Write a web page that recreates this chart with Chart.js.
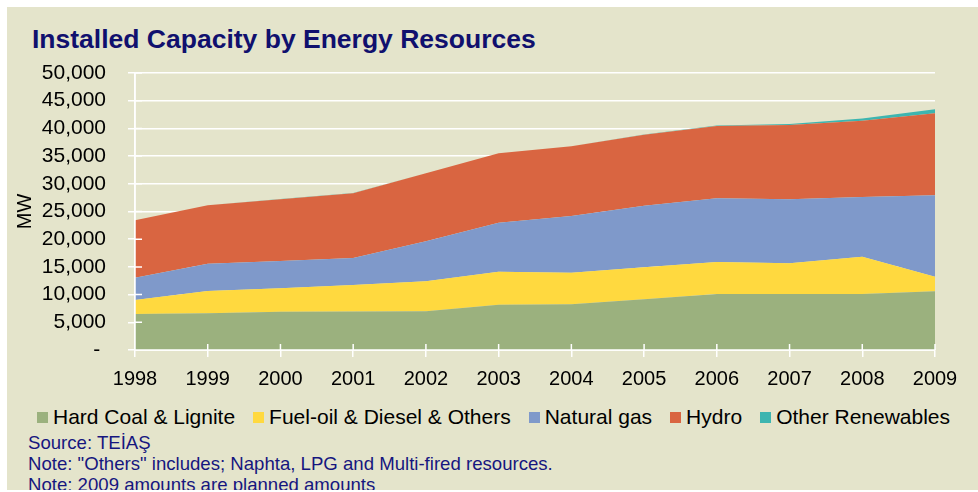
<!DOCTYPE html>
<html>
<head>
<meta charset="utf-8">
<script src="https://cdn.jsdelivr.net/npm/chart.js@4.4.1/dist/chart.umd.min.js"></script>
<style>
  body { margin: 0; background: #fff; font-family: "Liberation Sans", Arial, sans-serif; }
  #bg { position: absolute; left: 7px; top: 7px; width: 971px; height: 483px; background: #E4E4CB; overflow: hidden; }
  #title { position: absolute; left: 25px; top: 19px; font-size: 26.5px; line-height: 26.5px; font-weight: bold; color: #10106E; white-space: nowrap; }
  .note { position: absolute; left: 21px; font-size: 18.6px; line-height: 21px; color: #16167F; white-space: nowrap; }
  #legend { position: absolute; left: 30px; top: 398px; display: flex; align-items: center; height: 24px; font-size: 21px; line-height: 24px; color: #000; white-space: nowrap; }
  #legend span.box { display: inline-block; width: 11px; height: 11px; margin-right: 5px; }
  #legend span.item { display: flex; align-items: center; margin-right: 18px; }
  #c { position: absolute; left: 0; top: 0; }
</style>
</head>
<body>
<div id="bg">
  <div id="title">Installed Capacity by Energy Resources</div>
  <div id="legend"></div>
  <div class="note" style="top:425px">Source: TEİAŞ</div>
  <div class="note" style="top:446px">Note: "Others" includes; Naphta, LPG and Multi-fired resources.</div>
  <div class="note" style="top:467px">Note: 2009 amounts are planned amounts</div>
</div>
<canvas id="c" width="978" height="492"></canvas>
<script>
// MW
let years = ['1998', '1999', '2000', '2001', '2002', '2003', '2004', '2005', '2006', '2007', '2008', '2009'];
let coal = [6500, 6620, 6910, 6950, 6990, 8150, 8240, 9150, 10110, 10110, 10110, 10590];
let fuel = [2530, 4030, 4220, 4800, 5410, 5960, 5720, 5770, 5770, 5530, 6740, 2640];
let gas = [4020, 4930, 4930, 4870, 7220, 8840, 10230, 11130, 11490, 11560, 10770, 14690];
let hydro = [10350, 10540, 11140, 11680, 12270, 12550, 12570, 12820, 13060, 13410, 13770, 14800];
let renew = [30, 30, 35, 35, 35, 35, 35, 35, 80, 170, 400, 720];

let seriesNames = ['Hard Coal & Lignite', 'Fuel-oil & Diesel & Others', 'Natural gas', 'Hydro', 'Other Renewables'];
let seriesData = [coal, fuel, gas, hydro, renew];
let seriesColors = ['#9BB17E', '#FFD93F', '#7F99CA', '#D96541', '#3DB5B0'];

// white tick marks crossing the axes, drawn on top of the areas
let axisMarks = {
    id: 'axisMarks',
    afterDatasetsDraw(chart) {
        let ctx = chart.ctx;
        let x = chart.scales.x, y = chart.scales.y;
        ctx.save();
        ctx.strokeStyle = '#fff';
        ctx.lineWidth = 1.5;
        ctx.beginPath();
        ctx.moveTo(x.left, y.top);
        ctx.lineTo(x.left, y.bottom);
        ctx.lineTo(x.right, y.bottom);
        for (let i = 1; i < x.ticks.length; i++) {
            let px = x.getPixelForTick(i);
            ctx.moveTo(px, y.bottom - 6);
            ctx.lineTo(px, y.bottom);
        }
        for (let i = 1; i < y.ticks.length; i++) {
            let py = y.getPixelForTick(i);
            ctx.moveTo(x.left, py);
            ctx.lineTo(x.left + 7, py);
        }
        ctx.stroke();
        ctx.restore();
    }
};

let legend = document.getElementById('legend');
seriesNames.forEach(function (name, i) {
    let item = document.createElement('span');
    item.className = 'item';
    item.innerHTML = '<span class="box" style="background:' + seriesColors[i] + '"></span>' + name;
    legend.appendChild(item);
});

let ctx = document.getElementById('c').getContext('2d');
new Chart(ctx, {
    type: 'line',
    data: {
        labels: years,
        datasets: seriesNames.map(function (name, i) {
            return {
                label: name,
                data: seriesData[i],
                backgroundColor: seriesColors[i],
                borderColor: seriesColors[i],
                borderWidth: 0,
                pointRadius: 0,
                fill: i === 0 ? 'origin' : '-1'
            };
        })
    },
    options: {
        responsive: false,
        animation: false,
        devicePixelRatio: 1,
        layout: { padding: { left: 13, right: 43, top: 73, bottom: 101 } },
        plugins: { legend: { display: false }, tooltip: { enabled: false } },
        scales: {
            x: {
                offset: false,
                grid: { drawOnChartArea: false, color: '#fff', lineWidth: 1.5, tickLength: 7 },
                border: { color: '#fff', width: 1.5 },
                ticks: { color: '#000', font: { family: 'Liberation Sans', size: 20 }, padding: 10, maxRotation: 0, autoSkip: false },
                afterFit: function (axis) { axis.height = 41; }
            },
            y: {
                stacked: true,
                min: 0,
                max: 50000,
                grid: { color: '#fff', lineWidth: 1.5, tickLength: 7 },
                border: { color: '#fff', width: 1.5 },
                ticks: {
                    stepSize: 5000,
                    autoSkip: false,
                    color: '#000',
                    padding: 22,
                    font: { family: 'Liberation Sans', size: 21 },
                    callback: function (v) { return v === 0 ? '- ' : v.toLocaleString('en-US'); }
                },
                title: { display: true, text: 'MW', color: '#000', font: { family: 'Liberation Sans', size: 20 }, padding: 0 },
                afterFit: function (axis) { axis.width = 122; }
            }
        }
    },
    plugins: [axisMarks]
});
</script>
</body>
</html>
